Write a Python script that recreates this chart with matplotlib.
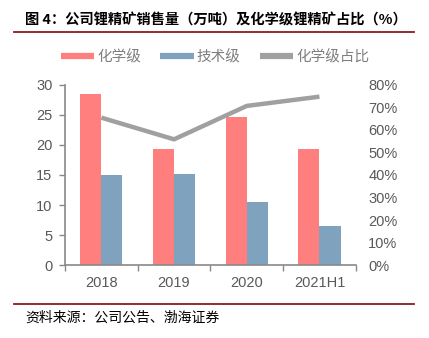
import matplotlib
matplotlib.use("Agg")
import matplotlib.pyplot as plt
from matplotlib.lines import Line2D
from matplotlib.ticker import FuncFormatter, FixedLocator
import numpy as np

plt.rcParams['font.family'] = ['Noto Sans CJK SC', 'DejaVu Sans']

categories = ['2018', '2019', '2020', '2021H1']
chemical = [28.4, 19.4, 24.6, 19.4]
technical = [15.0, 15.1, 10.5, 6.5]
chem_share = [0.654, 0.558, 0.706, 0.747]
left_ticks = [0, 5, 10, 15, 20, 25, 30]
right_ticks = [0, 0.1, 0.2, 0.3, 0.4, 0.5, 0.6, 0.7, 0.8]

c_chem = '#FF7F7F'
c_tech = '#7FA3BE'
c_line = '#A0A0A0'
c_txt = '#595959'
c_axis = '#898989'
c_red = '#8E1B1B'
num_font = ['Liberation Sans', 'DejaVu Sans']

fig = plt.figure(figsize=(4.29, 3.38), dpi=100)
ax = fig.add_axes([65/429, 1-265.3/338, (355.8-65)/429, (265.3-84.7)/338])
x = np.arange(len(categories))
w = 0.29
ax.bar(x - w/2, chemical, w, color=c_chem, zorder=2)
ax.bar(x + w/2, technical, w, color=c_tech, zorder=2)
ax.set_xlim(-0.5, len(categories) - 0.5)
ax.set_ylim(0, 30)
ax.set_yticks(left_ticks)
ax.set_xticks(x)
ax.set_xticklabels(categories)
ax.xaxis.set_minor_locator(FixedLocator(np.arange(-0.5, len(categories), 1.0)))
ax.tick_params(axis='x', which='major', length=0, pad=8, labelsize=10.5, colors=c_txt)
ax.tick_params(axis='x', which='minor', length=4, width=1, color=c_axis, direction='out')
ax.tick_params(axis='y', length=4, width=1, color=c_axis, pad=5, labelsize=10.5, labelcolor=c_txt)
for s in ['top', 'right']:
    ax.spines[s].set_visible(False)
for s in ['left', 'bottom']:
    ax.spines[s].set_color(c_axis)
    ax.spines[s].set_linewidth(1.2)
for lab in ax.get_xticklabels() + ax.get_yticklabels():
    lab.set_family(num_font)

ax2 = ax.twinx()
ax2.plot(x, chem_share, color=c_line, linewidth=3.2, solid_capstyle='butt', zorder=3)
ax2.set_ylim(0, 0.8)
ax2.set_yticks(right_ticks)
ax2.yaxis.set_major_formatter(FuncFormatter(lambda v, p: f"{v*100:.0f}%"))
ax2.tick_params(axis='y', length=0, pad=9, labelsize=10.5, labelcolor=c_txt)
for s in ['top', 'right', 'left', 'bottom']:
    ax2.spines[s].set_visible(False)
for lab in ax2.get_yticklabels():
    lab.set_family(num_font)

handles = [Line2D([], [], color=c_chem, lw=4.5, solid_capstyle='butt'),
           Line2D([], [], color=c_tech, lw=4.5, solid_capstyle='butt'),
           Line2D([], [], color=c_line, lw=4.5, solid_capstyle='butt')]
fig.legend(handles, ['化学级', '技术级', '化学级占比'], loc='center', bbox_to_anchor=(215/429, 1-57/338),
           ncol=3, frameon=False, fontsize=10.5, labelcolor='#7F7F7F', handlelength=2.3,
           handletextpad=0.2, columnspacing=1.3)

fig.text(25/429, 1-20/338, '图 4：公司锂精矿销售量（万吨）及化学级锂精矿占比（%）', fontsize=10.3,
         fontweight='bold', ha='left', va='center', color='black')
fig.add_artist(Line2D([14/429, 414/429], [1-32/338, 1-32/338], color=c_red, lw=1.3))
fig.add_artist(Line2D([14/429, 414/429], [1-304/338, 1-304/338], color=c_red, lw=1.3))
fig.text(25/429, 1-318/338, '资料来源：公司公告、渤海证券', fontsize=10, ha='left', va='center', color='black')

fig.savefig('out.png', dpi=100)
